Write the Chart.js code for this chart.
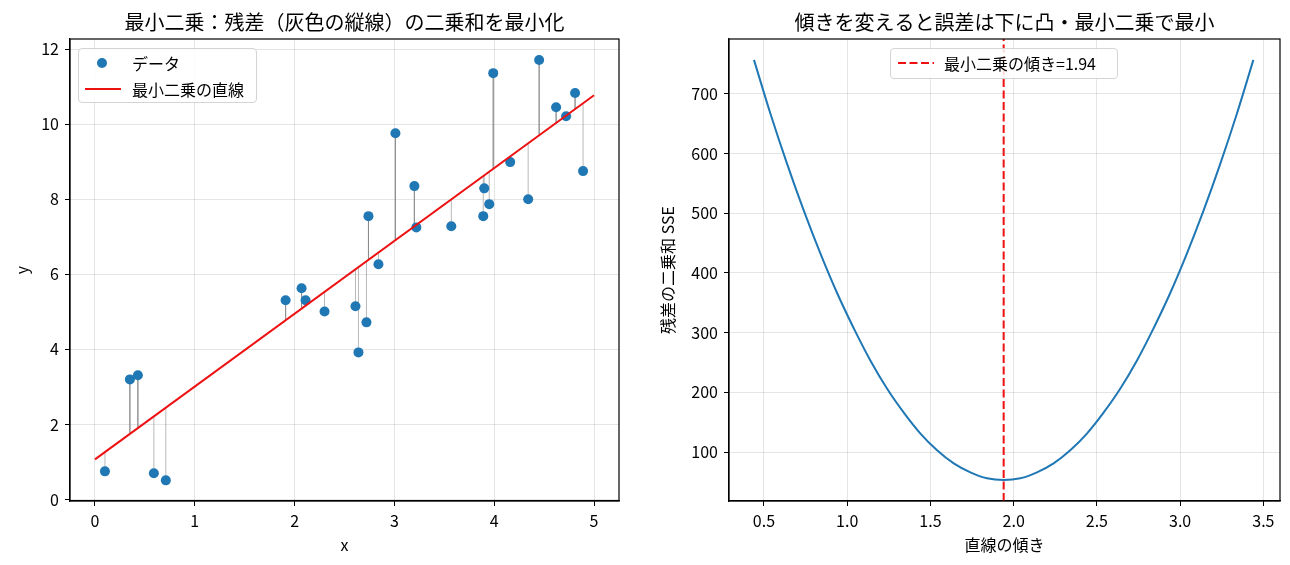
<!DOCTYPE html>
<html>
<head>
<meta charset="utf-8">
<script src="https://cdn.jsdelivr.net/npm/chart.js@4.4.1/dist/chart.umd.min.js"></script>
<style>
  body { margin: 0; background: #fff; font-family: 'Noto Sans CJK JP', sans-serif; }
  .wrap { position: absolute; top: 0; width: 640px; height: 565px; }
  .legend {
    position: absolute; background: rgba(255,255,255,0.85);
    border: 1px solid #d4d4d4; border-radius: 4px; box-sizing: border-box;
    font-size: 16px; color: #000;
  }
  .legend .row { position: absolute; left: 0; height: 20px; line-height: 20px; white-space: nowrap; }
  .legend .lbl { position: absolute; }
</style>
</head>
<body>
<div class="wrap" style="left:0"><canvas id="fitChart"></canvas></div>
<div class="wrap" style="left:650px"><canvas id="sseChart"></canvas></div>

<div class="legend" style="left:78px; top:48px; width:179px; height:55px;">
  <div class="row" style="top:4px;">
    <span style="position:absolute; left:18px; top:5px; width:10px; height:10px; border-radius:50%; background:#1f77b4;"></span>
    <span class="lbl" style="left:53px;">データ</span>
  </div>
  <div class="row" style="top:30px;">
    <span style="position:absolute; left:6px; top:9px; width:36px; height:2px; background:#ee1111;"></span>
    <span class="lbl" style="left:53px;">最小二乗の直線</span>
  </div>
</div>

<div class="legend" id="sseLegend" style="left:890px; top:48px; width:228px; height:31px;">
  <div class="row" style="top:4px;">
    <svg style="position:absolute; left:6px; top:6px;" width="38" height="8">
      <line x1="1" y1="4" x2="37" y2="4" stroke="#ee1111" stroke-width="2" stroke-dasharray="8,3.5"></line>
    </svg>
    <span class="lbl" style="left:53px;" id="sseLegendText"></span>
  </div>
</div>

<script>
// left panel: data points
const dataX = [0.10, 0.35, 0.43, 0.59, 0.71, 1.91, 2.07, 2.11, 2.30, 2.61,
               2.64, 2.72, 2.74, 2.84, 3.01, 3.20, 3.22, 3.57, 3.89, 3.90,
               3.95, 3.99, 4.16, 4.34, 4.45, 4.62, 4.72, 4.81, 4.89];
const dataY = [0.75, 3.20, 3.31, 0.70, 0.51, 5.31, 5.63, 5.31, 5.01, 5.15,
               3.92, 4.72, 7.55, 6.27, 9.76, 8.35, 7.25, 7.28, 7.55, 8.29,
               7.87, 11.36, 8.99, 8.00, 11.71, 10.45, 10.21, 10.83, 8.75];

// least squares line
const fitIntercept = 1.07;
const fitSlope = 1.94;
const fitX = [0, 5];
const fitY = [1.07, 10.77];

// right panel: SSE vs slope
const slopeValues = [0.44, 0.54, 0.64, 0.74, 0.84, 0.94, 1.04, 1.14, 1.24, 1.34,
                     1.44, 1.54, 1.64, 1.74, 1.84, 1.94, 2.04, 2.14, 2.24, 2.34,
                     2.44, 2.54, 2.64, 2.74, 2.84, 2.94, 3.04, 3.14, 3.24, 3.34, 3.44];
const sseValues = [757, 666, 582, 504, 432, 366, 307, 253, 206, 166,
                   131, 103, 81, 66, 56, 53, 56, 66, 81, 103,
                   131, 166, 206, 253, 307, 366, 432, 504, 582, 666, 757];

const FONT = "'Noto Sans CJK JP', sans-serif";
Chart.defaults.font.family = FONT;
Chart.defaults.font.size = 16;
Chart.defaults.color = '#000';

document.getElementById('sseLegendText').textContent = '最小二乗の傾き=' + fitSlope.toFixed(2);

// draws the top/right spines too (matplotlib box)
const boxPlugin = {
    id: 'box',
    afterDraw(chart) {
        const a = chart.chartArea;
        const ctx = chart.ctx;
        ctx.save();
        ctx.strokeStyle = '#000';
        ctx.lineWidth = 1.2;
        ctx.strokeRect(a.left, a.top, a.right - a.left, a.bottom - a.top);
        ctx.restore();
    }
};

function axis(opts) {
    return Object.assign({
        type: 'linear',
        grid: { color: 'rgba(0,0,0,0.1)', tickColor: '#000', tickLength: 5, lineWidth: 1 },
        border: { display: true, color: '#000', width: 1.2 }
    }, opts);
}

function titleOpts(text) {
    return {
        display: true, text: text, fullSize: false,
        font: { size: 20, weight: 'normal' }, color: '#000',
        padding: { top: 10, bottom: 5 }
    };
}

// left chart
const residualData = [];
dataX.forEach((x, i) => {
    residualData.push({ x: x, y: dataY[i] });
    residualData.push({ x: x, y: fitIntercept + fitSlope * x });
    residualData.push({ x: x, y: null });
});

new Chart(document.getElementById('fitChart'), {
    type: 'scatter',
    data: {
        datasets: [
            {
                label: '最小二乗の直線',
                data: fitX.map((x, i) => ({ x: x, y: fitY[i] })),
                showLine: true, borderColor: '#ee1111', borderWidth: 2,
                pointRadius: 0, order: 0
            },
            {
                label: 'データ',
                data: dataX.map((x, i) => ({ x: x, y: dataY[i] })),
                backgroundColor: '#1f77b4', borderWidth: 0,
                pointRadius: 5, order: 1
            },
            {
                label: 'residuals',
                data: residualData,
                showLine: true, spanGaps: false,
                borderColor: 'rgba(128,128,128,0.55)', borderWidth: 1,
                pointRadius: 0, order: 2
            }
        ]
    },
    options: {
        responsive: true, maintainAspectRatio: false, animation: false,
        layout: { padding: { left: 0, right: 21, top: 0, bottom: 0 } },
        plugins: {
            legend: { display: false },
            tooltip: { enabled: false },
            title: titleOpts('最小二乗：残差（灰色の縦線）の二乗和を最小化')
        },
        scales: {
            x: axis({
                min: -0.25, max: 5.25,
                ticks: { includeBounds: false, stepSize: 1, padding: 5, font: { size: 16 }, color: '#000' },
                title: { display: true, text: 'x', font: { size: 16 }, padding: { top: 0, bottom: 10 } },
                afterFit(s) { s.height = 64; }
            }),
            y: axis({
                min: -0.04, max: 12.27,
                ticks: { includeBounds: false, stepSize: 2, padding: 6, font: { size: 16 }, color: '#000' },
                title: { display: true, text: 'y', font: { size: 16 }, padding: { top: 12, bottom: 0 } },
                afterFit(s) { s.width = 70; }
            })
        }
    },
    plugins: [boxPlugin]
});

// right chart
new Chart(document.getElementById('sseChart'), {
    type: 'scatter',
    data: {
        datasets: [
            {
                label: '最小二乗の傾き=' + fitSlope.toFixed(2),
                data: [{ x: fitSlope, y: 18 }, { x: fitSlope, y: 792 }],
                showLine: true, borderColor: '#ee1111', borderWidth: 2,
                borderDash: [8, 3.5], pointRadius: 0, order: 0
            },
            {
                label: 'SSE',
                data: slopeValues.map((b, i) => ({ x: b, y: sseValues[i] })),
                showLine: true, borderColor: '#1f77b4', borderWidth: 2,
                tension: 0.4,
                pointRadius: 0, order: 1
            }
        ]
    },
    options: {
        responsive: true, maintainAspectRatio: false, animation: false,
        layout: { padding: { left: 0, right: 10, top: 0, bottom: 0 } },
        plugins: {
            legend: { display: false },
            tooltip: { enabled: false },
            title: titleOpts('傾きを変えると誤差は下に凸・最小二乗で最小')
        },
        scales: {
            x: axis({
                min: 0.29, max: 3.6,
                ticks: {
                    includeBounds: false, stepSize: 0.5, padding: 5, font: { size: 16 }, color: '#000',
                    callback: v => v.toFixed(1)
                },
                title: { display: true, text: '直線の傾き', font: { size: 16 }, padding: { top: 0, bottom: 10 } },
                afterFit(s) { s.height = 64; }
            }),
            y: axis({
                min: 18, max: 792,
                ticks: { includeBounds: false, stepSize: 100, padding: 6, font: { size: 16 }, color: '#000' },
                title: { display: true, text: '残差の二乗和 SSE', font: { size: 16 }, padding: { top: 8, bottom: 0 } },
                afterFit(s) { s.width = 79; }
            })
        }
    },
    plugins: [boxPlugin]
});
</script>
</body>
</html>
